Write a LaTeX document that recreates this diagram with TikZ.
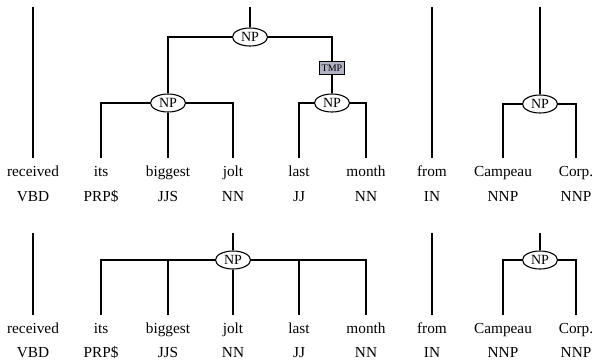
\documentclass[tikz,border=0pt]{standalone}
\usepackage{fontspec}
\setmainfont{Liberation Serif}
\usetikzlibrary{shapes.geometric}
\definecolor{tmpcol}{RGB}{178,178,198}
\begin{document}
\begin{tikzpicture}[x=1pt,y=-1pt,line width=1.1pt,
  word/.style={font=\fontsize{15.3}{18}\selectfont,text height=11pt,text depth=3pt,inner sep=0pt,outer ysep=7.5pt,anchor=base},
  tag/.style={font=\fontsize{15.3}{18}\selectfont,inner sep=0pt,anchor=base},
  np/.style={ellipse,draw,fill=white,minimum width=35pt,minimum height=18pt,inner sep=0pt,font=\fontsize{14}{16}\selectfont},
  fn/.style={rectangle,draw,fill=tmpcol,minimum width=25pt,minimum height=13pt,inner sep=0pt,line width=1pt,font=\fontsize{10}{12}\selectfont}]
\useasboundingbox (0,0) rectangle (594,361);
% ---------- top tree ----------
\node[word] (w1) at (33,176) {received};
\node[word] (w2) at (101,176) {its};
\node[word] (w3) at (168,176) {biggest};
\node[word] (w4) at (233,176) {jolt};
\node[word] (w5) at (299,176) {last};
\node[word] (w6) at (366,176) {month};
\node[word] (w7) at (432,176) {from};
\node[word] (w8) at (503,176) {Campeau};
\node[word] (w9) at (576,176) {Corp.};
\node[tag] (t1) at (33,201) {VBD};
\node[tag] (t2) at (101,201) {PRP\$};
\node[tag] (t3) at (168,201) {JJS};
\node[tag] (t4) at (233,201) {NN};
\node[tag] (t5) at (299,201) {JJ};
\node[tag] (t6) at (366,201) {NN};
\node[tag] (t7) at (432,201) {IN};
\node[tag] (t8) at (503,201) {NNP};
\node[tag] (t9) at (576,201) {NNP};
\node[np] (np0) at (250,37) {NP};
\node[np] (np1) at (168,103) {NP};
\node[fn] (tmp) at (332,68) {TMP};
\node[np] (np2) at (332,103) {NP};
\node[np] (np3) at (540,104) {NP};
\coordinate (c1) at (33,7);
\coordinate (c0) at (250,7);
\coordinate (c7) at (432,7);
\coordinate (c3) at (540,7);
\draw (c1) -- (w1.north);
\draw (c7) -- (w7.north);
\draw (c0) -- (np0);
\draw (np0) -| (np1);
\draw (np0) -| (tmp);
\draw (tmp) -- (np2);
\draw (np1) -| (w2.north);
\draw (np1) -- (w3.north);
\draw (np1) -| (w4.north);
\draw (np2) -| (w5.north);
\draw (np2) -| (w6.north);
\draw (c3) -- (np3);
\draw (np3) -| (w8.north);
\draw (np3) -| (w9.north);
% ---------- bottom tree ----------
\node[word] (b1) at (33,333) {received};
\node[word] (b2) at (101,333) {its};
\node[word] (b3) at (168,333) {biggest};
\node[word] (b4) at (233,333) {jolt};
\node[word] (b5) at (299,333) {last};
\node[word] (b6) at (366,333) {month};
\node[word] (b7) at (432,333) {from};
\node[word] (b8) at (503,333) {Campeau};
\node[word] (b9) at (576,333) {Corp.};
\node[tag] (s1) at (33,357) {VBD};
\node[tag] (s2) at (101,357) {PRP\$};
\node[tag] (s3) at (168,357) {JJS};
\node[tag] (s4) at (233,357) {NN};
\node[tag] (s5) at (299,357) {JJ};
\node[tag] (s6) at (366,357) {NN};
\node[tag] (s7) at (432,357) {IN};
\node[tag] (s8) at (503,357) {NNP};
\node[tag] (s9) at (576,357) {NNP};
\node[np] (np4) at (233,260) {NP};
\node[np] (np5) at (540,260) {NP};
\coordinate (d1) at (33,233);
\coordinate (d4) at (233,233);
\coordinate (d7) at (432,233);
\coordinate (d5) at (540,233);
\draw (d1) -- (b1.north);
\draw (d7) -- (b7.north);
\draw (d4) -- (np4);
\draw (np4) -| (b2.north);
\draw (np4) -| (b3.north);
\draw (np4) -- (b4.north);
\draw (np4) -| (b5.north);
\draw (np4) -| (b6.north);
\draw (d5) -- (np5);
\draw (np5) -| (b8.north);
\draw (np5) -| (b9.north);
\end{tikzpicture}
\end{document}
